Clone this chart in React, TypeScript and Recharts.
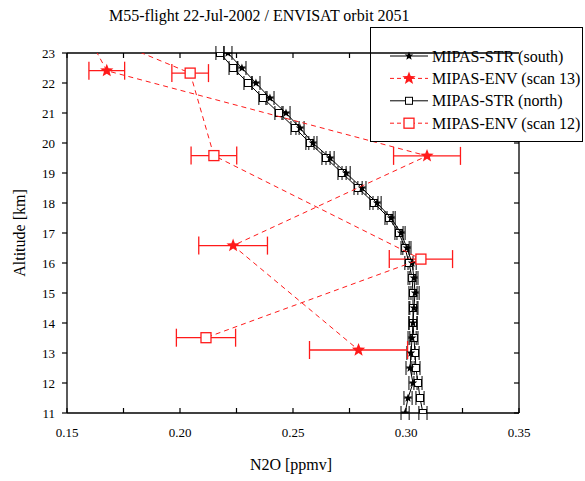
import React from 'react'
import { ScatterChart, Scatter, XAxis, YAxis, ErrorBar } from 'recharts'

// N2O profiles, M55 flight vs. ENVISAT orbit 2051
const FONT = 'Liberation Serif'
const RED = '#ff1a1a'

const STR_ALT = [23, 22.5, 22, 21.5, 21, 20.5, 20, 19.5, 19, 18.5, 18, 17.5, 17, 16.5, 16, 15.5, 15, 14.5, 14, 13.5, 13, 12.5, 12, 11.5, 11]
const STR_SOUTH = [0.2212, 0.2274, 0.2336, 0.2398, 0.2469, 0.2531, 0.2588, 0.2664, 0.2735, 0.2805, 0.2872, 0.2934, 0.2978, 0.3004, 0.3027, 0.3035, 0.304, 0.3035, 0.3031, 0.3027, 0.3022, 0.3018, 0.3031, 0.3009, 0.2996]
const STR_NORTH = [0.2177, 0.2235, 0.2301, 0.2367, 0.2438, 0.2509, 0.2575, 0.2646, 0.2717, 0.2788, 0.2858, 0.2925, 0.2969, 0.2996, 0.3013, 0.3027, 0.3031, 0.3031, 0.3031, 0.3035, 0.304, 0.3044, 0.3053, 0.3062, 0.3075]
const STR_ERR = 0.0018

const ENV13_ALT = [23.6, 22.41, 19.57, 16.58, 13.1]
const ENV13_N2O = [0.159, 0.1676, 0.3093, 0.2235, 0.279]
const ENV13_ERR = [0, 0.0079, 0.0148, 0.0152, 0.0217]

const ENV12_ALT = [23.6, 22.33, 19.58, 16.13, 13.51]
const ENV12_N2O = [0.164, 0.2045, 0.215, 0.3066, 0.2115]
const ENV12_ERR = [0, 0.0081, 0.0101, 0.014, 0.0131]

const X_TICKS = [0.15, 0.175, 0.2, 0.225, 0.25, 0.275, 0.3, 0.325, 0.35]
const Y_TICKS = [11, 11.5, 12, 12.5, 13, 13.5, 14, 14.5, 15, 15.5, 16, 16.5, 17, 17.5, 18, 18.5, 19, 19.5, 20, 20.5, 21, 21.5, 22, 22.5, 23]

const LEGEND = [
  { name: 'MIPAS-STR (south)', color: '#000', dash: undefined, mark: 'star-s' },
  { name: 'MIPAS-ENV (scan 13)', color: RED, dash: '4 3', mark: 'star-l' },
  { name: 'MIPAS-STR (north)', color: '#000', dash: undefined, mark: 'sq-s' },
  { name: 'MIPAS-ENV (scan 12)', color: RED, dash: '4 3', mark: 'sq-l' },
]

const rows = (xs: number[], ys: number[], es: number[] | number) =>
  xs.map((x, i) => ({ x, y: ys[i], e: Array.isArray(es) ? es[i] : es }))

const starPts = (cx: number, cy: number, R: number) => {
  const p: string[] = []
  for (let i = 0; i < 10; i++) {
    const r = i % 2 === 0 ? R : R * 0.42
    const a = -Math.PI / 2 + (i * Math.PI) / 5
    p.push(`${cx + r * Math.cos(a)},${cy + r * Math.sin(a)}`)
  }
  return p.join(' ')
}

function Mark({ kind, cx, cy }: { kind: string; cx: number; cy: number }) {
  if (kind === 'star-s') return <polygon points={starPts(cx, cy, 4.5)} fill="#000" />
  if (kind === 'star-l') return <polygon points={starPts(cx, cy, 7)} fill={RED} />
  if (kind === 'sq-s') return <rect x={cx - 3.5} y={cy - 3.5} width={7} height={7} fill="#fff" stroke="#000" strokeWidth={1} />
  return <rect x={cx - 5} y={cy - 5} width={10} height={10} fill="#fff" stroke={RED} strokeWidth={1.3} />
}

const isMajorX = (v: number) => Math.abs(v * 20 - Math.round(v * 20)) < 1e-6

function BottomTick({ x, y, payload }: any) {
  return (
    <g>
      <line x1={x} x2={x} y1={y} y2={y - 5} stroke="#000" strokeWidth={1.2} />
      {isMajorX(payload.value) && (
        <text x={x} y={y + 24} textAnchor="middle" fontSize={13} fontFamily={FONT} fill="#000">
          {payload.value.toFixed(2)}
        </text>
      )}
    </g>
  )
}

function LeftTick({ x, y, payload }: any) {
  return Number.isInteger(payload.value) ? (
    <text x={x} y={y + 4.5} textAnchor="end" fontSize={13} fontFamily={FONT} fill="#000">{payload.value}</text>
  ) : <g />
}

function TopTick({ x, y }: any) {
  return <line x1={x} x2={x} y1={y} y2={y + 5} stroke="#000" strokeWidth={1.2} />
}

function RightTick({ x, y }: any) {
  return <line x1={x} x2={x - 5} y1={y} y2={y} stroke="#000" strokeWidth={1.2} />
}

function LegendBox() {
  return (
    <div style={{ position: 'absolute', left: 370, top: 27, width: 213, height: 115, border: '1px solid #000', background: '#fff', boxSizing: 'border-box' }}>
      <svg width={213} height={115} style={{ position: 'absolute', left: -1, top: -1 }}>
        {LEGEND.map((l, i) => {
          const cy = 29 + i * 22.4
          return (
            <g key={l.name}>
              <line x1={20} x2={58} y1={cy} y2={cy} stroke={l.color} strokeWidth={1} strokeDasharray={l.dash} />
              <Mark kind={l.mark} cx={39} cy={cy} />
              <text x={62} y={cy + 5.5} fontSize={16} fontFamily={FONT} fill="#000">{l.name}</text>
            </g>
          )
        })}
      </svg>
    </div>
  )
}

export default function App() {
  const south = rows(STR_SOUTH, STR_ALT, STR_ERR)
  const north = rows(STR_NORTH, STR_ALT, STR_ERR)
  const env13 = rows(ENV13_N2O, ENV13_ALT, ENV13_ERR)
  const env12 = rows(ENV12_N2O, ENV12_ALT, ENV12_ERR)
  return (
    <div style={{ position: 'absolute', left: 0, top: 0, width: 585, height: 481, background: '#fff', fontFamily: FONT, overflow: 'hidden' }}>
      <div style={{ position: 'absolute', left: 109, top: 7, fontSize: 16, whiteSpace: 'nowrap' }}>
        M55-flight 22-Jul-2002 / ENVISAT orbit 2051
      </div>
      <ScatterChart width={585} height={481} margin={{ top: 52, right: 65, bottom: 38, left: 27 }}>
        <XAxis xAxisId="b" type="number" dataKey="x" domain={[0.15, 0.35]} ticks={X_TICKS} allowDataOverflow
          height={30} tickSize={0} tickMargin={0} tick={<BottomTick />} axisLine={{ stroke: '#000', strokeWidth: 1.3 }} />
        <XAxis xAxisId="t" orientation="top" type="number" dataKey="x" domain={[0.15, 0.35]} ticks={X_TICKS} allowDataOverflow
          height={1} tickSize={0} tickMargin={0} tick={<TopTick />} axisLine={{ stroke: '#000', strokeWidth: 1.3 }} />
        <YAxis yAxisId="l" type="number" dataKey="y" domain={[11, 23]} ticks={Y_TICKS} allowDataOverflow width={40}
          tickSize={5} tickMargin={7} tick={<LeftTick />} tickLine={{ stroke: '#000', strokeWidth: 1.2 }}
          axisLine={{ stroke: '#000', strokeWidth: 1.3 }} />
        <YAxis yAxisId="r" orientation="right" type="number" dataKey="y" domain={[11, 23]} ticks={Y_TICKS} allowDataOverflow width={1}
          tickSize={0} tickMargin={0} tick={<RightTick />} axisLine={{ stroke: '#000', strokeWidth: 1.3 }} />

        <Scatter xAxisId="b" yAxisId="l" data={north} isAnimationActive={false} line={{ stroke: '#000', strokeWidth: 1 }}
          shape={(p: any) => <Mark kind="sq-s" cx={p.cx} cy={p.cy} />}>
          <ErrorBar dataKey="e" direction="x" width={7} stroke="#000" strokeWidth={1} />
        </Scatter>
        <Scatter xAxisId="b" yAxisId="l" data={south} isAnimationActive={false} line={{ stroke: '#000', strokeWidth: 1 }}
          shape={(p: any) => <Mark kind="star-s" cx={p.cx} cy={p.cy} />}>
          <ErrorBar dataKey="e" direction="x" width={7} stroke="#000" strokeWidth={1} />
        </Scatter>
        <Scatter xAxisId="b" yAxisId="l" data={env12} isAnimationActive={false} line={{ stroke: RED, strokeWidth: 1, strokeDasharray: '5 4' }}
          shape={(p: any) => <Mark kind="sq-l" cx={p.cx} cy={p.cy} />}>
          <ErrorBar dataKey="e" direction="x" width={9} stroke={RED} strokeWidth={1.3} />
        </Scatter>
        <Scatter xAxisId="b" yAxisId="l" data={env13} isAnimationActive={false} line={{ stroke: RED, strokeWidth: 1, strokeDasharray: '5 4' }}
          shape={(p: any) => <Mark kind="star-l" cx={p.cx} cy={p.cy} />}>
          <ErrorBar dataKey="e" direction="x" width={9} stroke={RED} strokeWidth={1.3} />
        </Scatter>
      </ScatterChart>
      <LegendBox />
      <svg width={585} height={481} style={{ position: 'absolute', left: 0, top: 0, pointerEvents: 'none' }}>
        <line x1={370} x2={519} y1={53} y2={53} stroke="#000" strokeWidth={1.3} />
      </svg>
      <div style={{ position: 'absolute', left: 291, top: 456, fontSize: 16, transform: 'translateX(-50%)', whiteSpace: 'nowrap' }}>
        N2O [ppmv]
      </div>
      <div style={{ position: 'absolute', left: 20, top: 233, fontSize: 16, transform: 'translate(-50%, -50%) rotate(-90deg)', whiteSpace: 'nowrap' }}>
        Altitude [km]
      </div>
    </div>
  )
}
